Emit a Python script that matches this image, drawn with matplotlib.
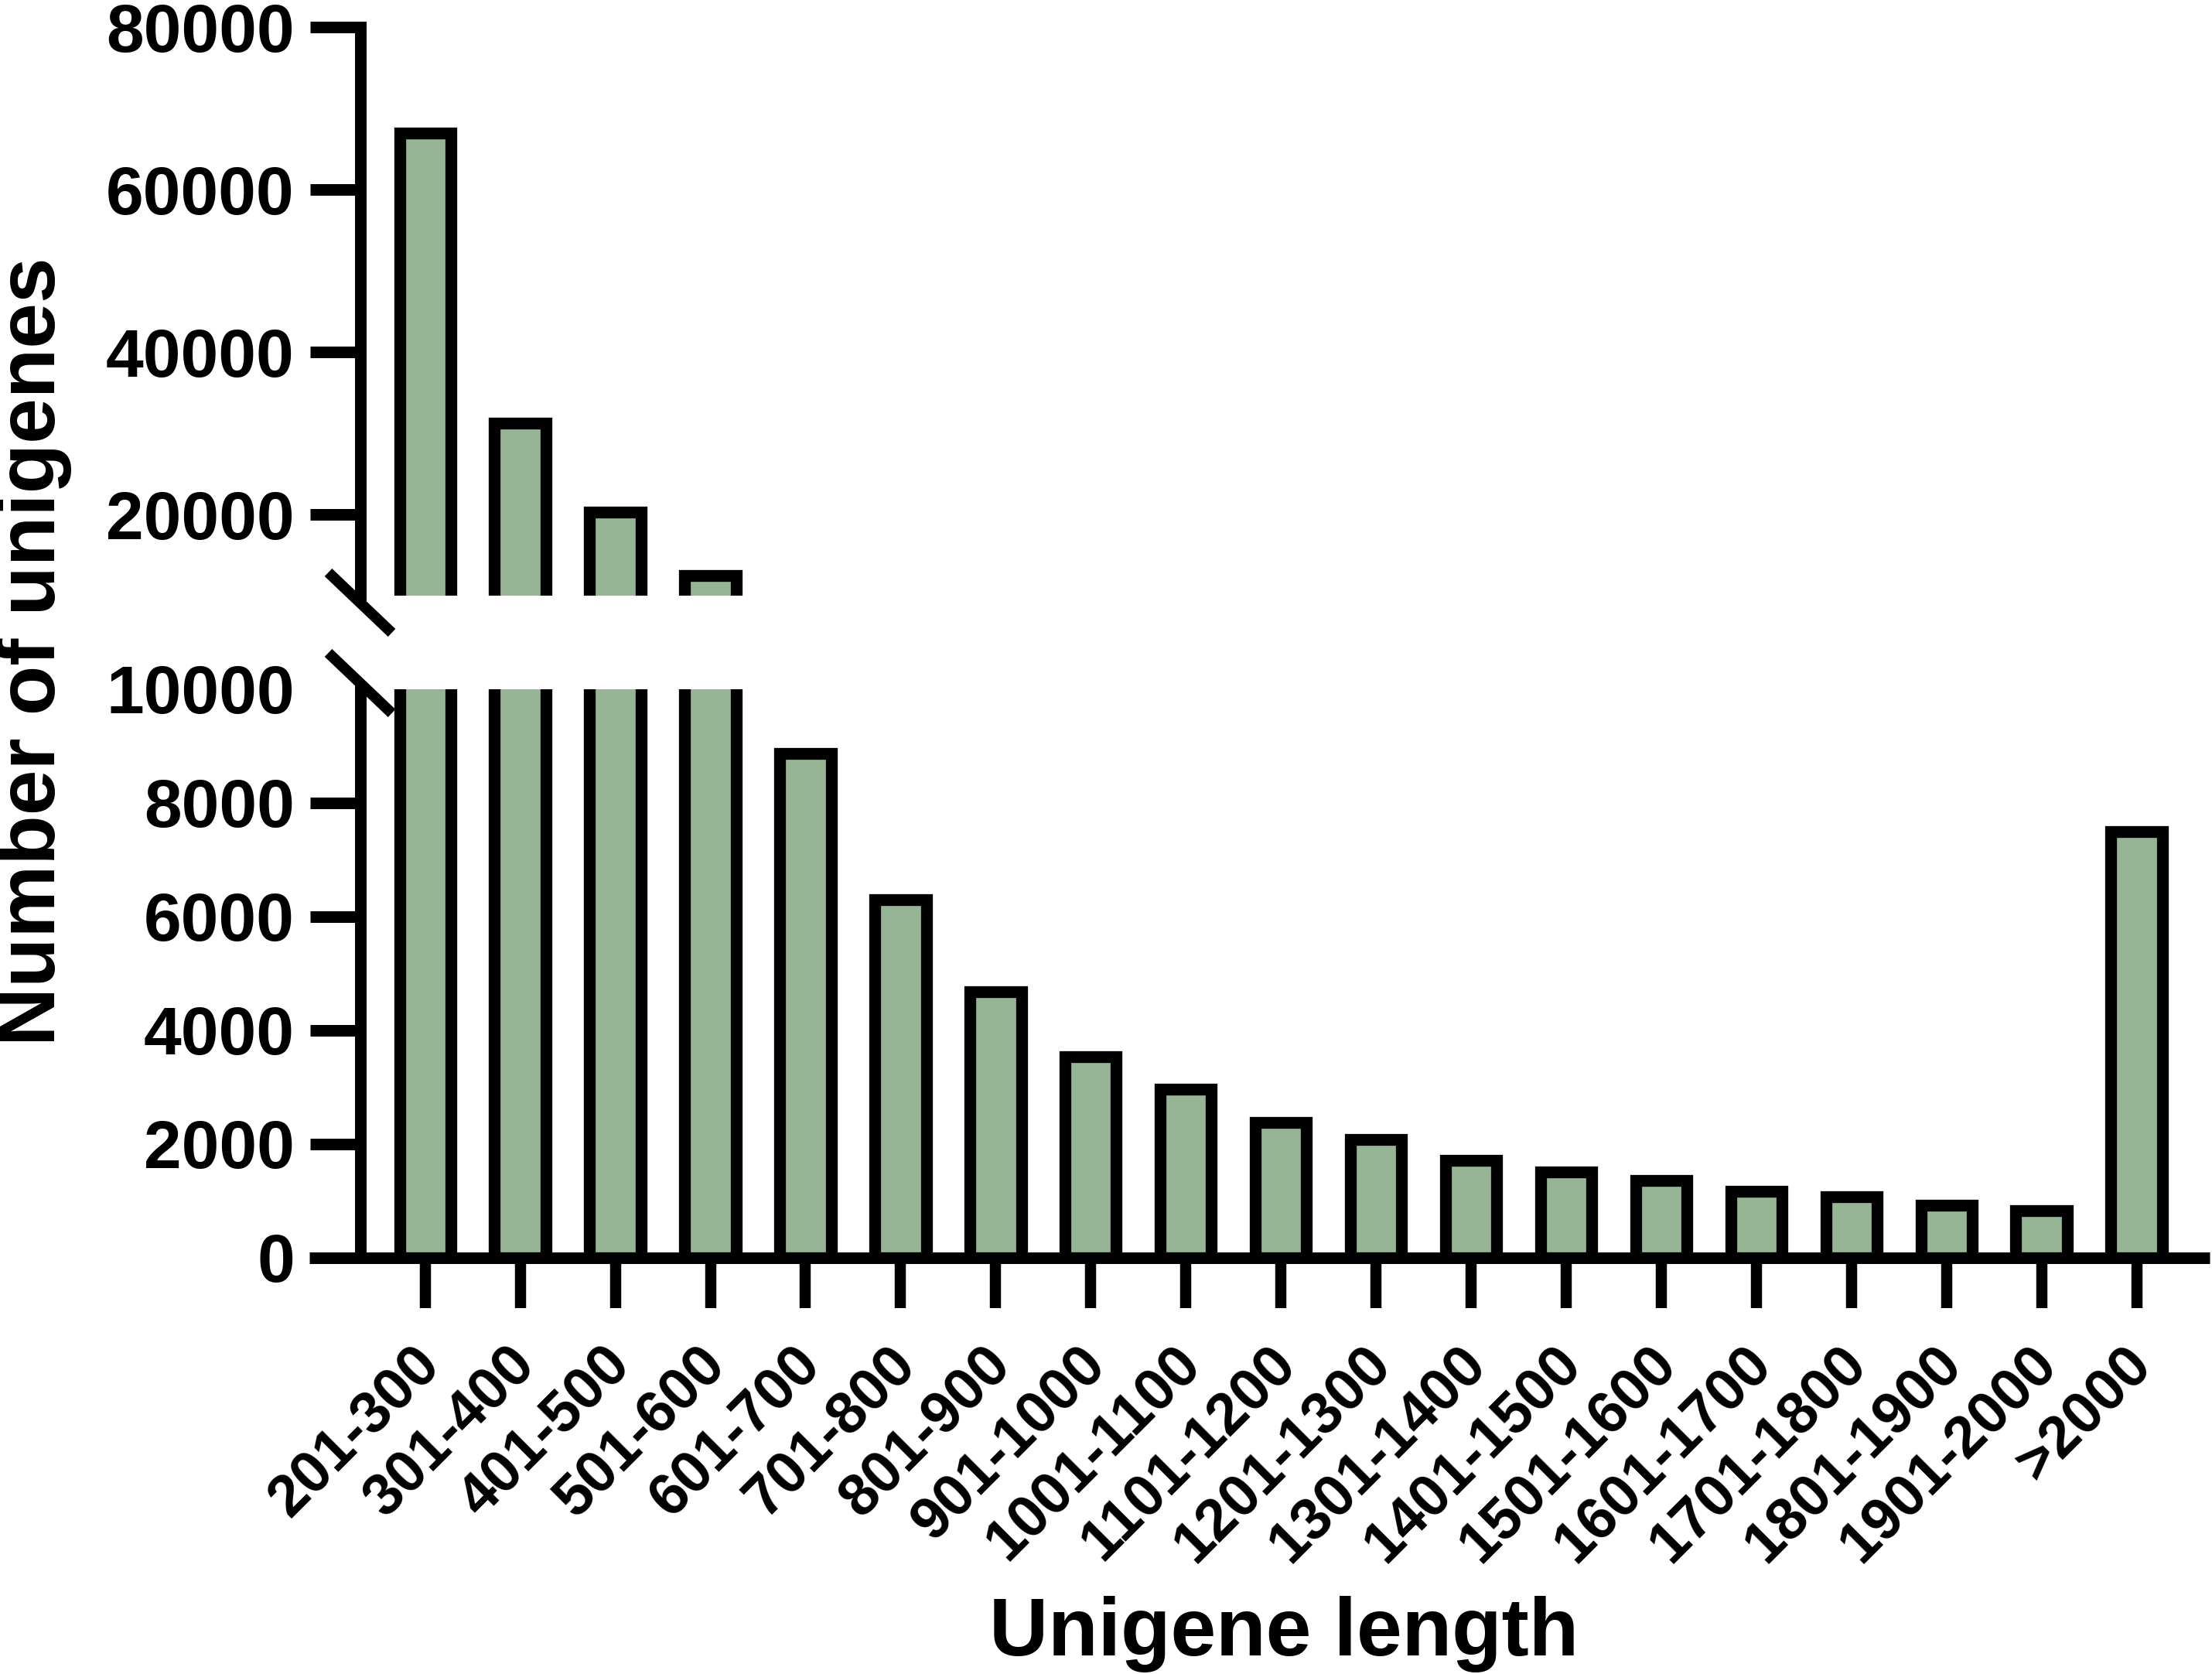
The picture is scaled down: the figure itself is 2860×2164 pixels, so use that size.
import matplotlib
matplotlib.use('Agg')
import matplotlib.pyplot as plt
from matplotlib.lines import Line2D
from matplotlib.transforms import ScaledTranslation
import numpy as np

# ---- data ----
categories = ['201-300', '301-400', '401-500', '501-600', '601-700', '701-800',
              '801-900', '901-1000', '1001-1100', '1101-1200', '1201-1300',
              '1301-1400', '1401-1500', '1501-1600', '1601-1700', '1701-1800',
              '1801-1900', '1901-2000', '>2000']
counts = [67000, 31200, 20300, 12500, 8870, 6300, 4670, 3530, 2960, 2370, 2070,
          1710, 1500, 1350, 1170, 1070, 920, 820, 7490]
low_ticks = [0, 2000, 4000, 6000, 8000, 10000]
up_ticks = [20000, 40000, 60000, 80000]
low_range = (0, 10000)
up_range = (10000, 80000)
x_label = 'Unigene length'
y_label = 'Number of unigenes'

# ---- style ----
plt.rcParams['font.family'] = ['Liberation Sans', 'DejaVu Sans']
plt.rcParams['font.weight'] = 'bold'

W, H = 2860, 2164
fig = plt.figure(figsize=(W / 100, H / 100), dpi=100)

left_px, right_px = 400, 2857
ax_low = fig.add_axes([left_px / W, 1 - 1625.5 / H, (right_px - left_px) / W, (1625.5 - 891) / H])
ax_up = fig.add_axes([left_px / W, 1 - 770 / H, (right_px - left_px) / W, (770 - 35) / H])

x = np.arange(len(categories))
xlim = (-1.218, 18.768)
spine_x = -0.685
LW = 10.8
fill = '#96b594'

for ax in (ax_low, ax_up):
    ax.bar(x, counts, width=0.54, color=fill, edgecolor='black', linewidth=11)
    ax.set_xlim(*xlim)
    ax.spines['top'].set_visible(False)
    ax.spines['right'].set_visible(False)
    ax.spines['left'].set_position(('data', spine_x))
    ax.spines['left'].set_linewidth(LW)
    ax.tick_params(axis='y', length=47, width=LW, pad=14, labelsize=63, colors='black')
    ax.patch.set_visible(False)

ax_low.set_ylim(*low_range)
ax_up.set_ylim(*up_range)
ax_low.set_yticks(low_ticks)
ax_up.set_yticks(up_ticks)
ax_low.yaxis.get_major_ticks()[-1].tick1line.set_visible(False)

ax_up.spines['bottom'].set_visible(False)
ax_up.set_xticks([])

ax_low.spines['bottom'].set_linewidth(LW)
ax_low.spines['bottom'].set_capstyle('butt')
ax_low.set_xticks(x)
ax_low.set_xticklabels(categories, rotation=45, ha='right', va='top',
                       rotation_mode='anchor', fontsize=54.5, fontweight='bold')
ax_low.tick_params(axis='x', length=46.5, width=10.4, pad=27)
for lab in ax_low.get_xticklabels():
    lab.set_transform(lab.get_transform() + ScaledTranslation(-0.17, 0, fig.dpi_scale_trans))

# ---- axis break marks ----
inv = fig.transFigure.inverted()
def slash(center):
    cx, cy = center
    p1 = inv.transform((cx - 41, cy + 39))
    p2 = inv.transform((cx + 41, cy - 39))
    fig.add_artist(Line2D([p1[0], p2[0]], [p1[1], p2[1]], color='black',
                          linewidth=10, solid_capstyle='butt', zorder=10))

c_up = ax_up.transData.transform((spine_x, up_range[0]))
c_low = ax_low.transData.transform((spine_x, low_range[1]))
slash((c_up[0], c_up[1] - 9))
slash((c_low[0], c_low[1] + 8))

# ---- labels ----
fig.text(44 / W, 1 - 842 / H, y_label, rotation=90, ha='center', va='center',
         fontsize=76, fontweight='bold')
fig.text(1660 / W, 1 - 2140 / H, x_label, ha='center', va='baseline',
         fontsize=76, fontweight='bold')

fig.savefig('out.png', dpi=100, facecolor='white')
